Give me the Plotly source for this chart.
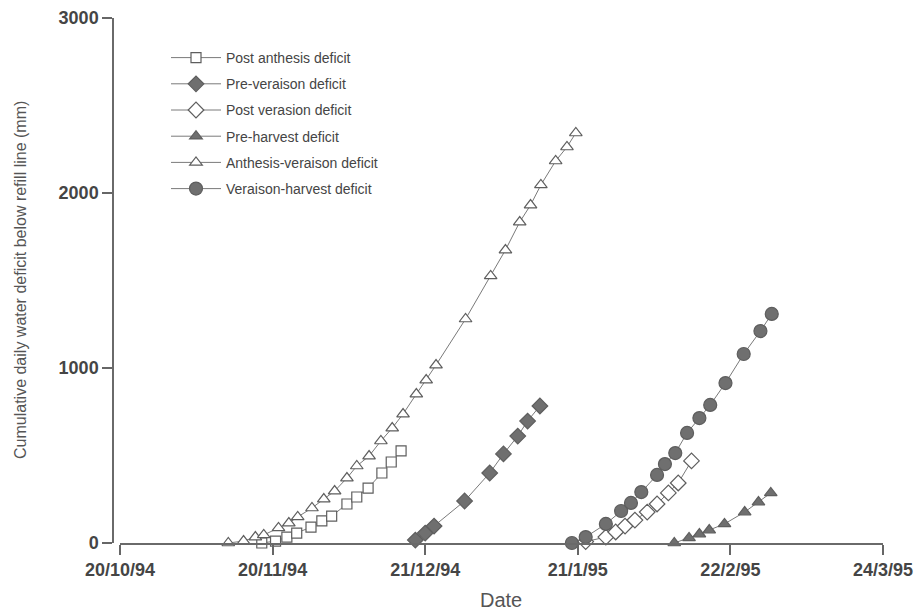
import plotly.graph_objects as go

# x values are days after 20/10/94; ticks every 31 days
tick_days = [0, 31, 62, 93, 124, 155]
tick_labels = ["20/10/94", "20/11/94", "21/12/94", "21/1/95", "22/2/95", "24/3/95"]
y_ticks = [0, 1000, 2000, 3000]

post_anthesis_day = [28.8, 31.6, 33.9, 35.9, 38.8, 41.0, 43.0, 46.1, 48.1, 50.4, 53.2, 55.1, 57.1]
post_anthesis_mm = [0, 11, 34, 57, 91, 126, 154, 223, 263, 314, 400, 463, 526]

pre_veraison_day = [60.0, 62.0, 63.8, 70.0, 75.1, 77.9, 80.8, 82.8, 85.3]
pre_veraison_mm = [17, 57, 97, 240, 400, 509, 611, 697, 783]

post_veraison_day = [94.6, 98.7, 100.7, 102.6, 104.6, 107.1, 109.1, 111.4, 113.4, 116.1]
post_veraison_mm = [8, 34, 63, 97, 131, 177, 223, 286, 343, 469]

pre_harvest_day = [112.6, 115.6, 117.7, 119.7, 122.8, 126.9, 129.7, 132.2]
pre_harvest_mm = [0, 29, 51, 74, 109, 177, 234, 286]

anthesis_veraison_day = [22.0, 25.1, 27.5, 29.2, 32.2, 34.3, 36.1, 39.0, 41.4, 43.6,
                         46.1, 48.1, 50.6, 53.0, 55.3, 57.5, 60.2, 62.2, 64.2, 70.2,
                         75.3, 78.3, 81.2, 83.4, 85.5, 88.5, 90.8, 92.6]
anthesis_veraison_mm = [0, 11, 34, 46, 86, 114, 149, 200, 251, 297,
                        371, 440, 497, 583, 657, 737, 851, 931, 1017, 1280,
                        1526, 1674, 1834, 1931, 2046, 2183, 2263, 2343]

veraison_harvest_day = [91.8, 94.6, 98.7, 101.8, 103.8, 105.9, 109.1, 110.7, 112.8, 115.2,
                        117.7, 119.9, 123.0, 126.7, 130.1, 132.4]
veraison_harvest_mm = [0, 34, 109, 183, 229, 291, 389, 451, 514, 629,
                       714, 789, 914, 1080, 1211, 1309]

LINE = "#7a7a7a"
EDGE = "#5e5e5e"
FILL = "#6f6f6f"
TEXT = "#454545"

series = [
    ("Post anthesis deficit", post_anthesis_day, post_anthesis_mm, "square", 10, "white"),
    ("Pre-veraison deficit", pre_veraison_day, pre_veraison_mm, "diamond", 12, FILL),
    ("Post verasion deficit", post_veraison_day, post_veraison_mm, "diamond", 12, "white"),
    ("Pre-harvest deficit", pre_harvest_day, pre_harvest_mm, "triangle-up", 11, FILL),
    ("Anthesis-veraison deficit", anthesis_veraison_day, anthesis_veraison_mm, "triangle-up", 11, "white"),
    ("Veraison-harvest deficit", veraison_harvest_day, veraison_harvest_mm, "circle", 13, FILL),
]

fig = go.Figure()
for i, (name, xd, yd, sym, size, fill) in enumerate(series):
    fig.add_trace(go.Scatter(
        x=xd, y=yd, name=name, mode="lines+markers",
        legendgroup=f"g{i}",
        line=dict(color=LINE, width=1),
        marker=dict(symbol=sym, size=size, color=fill,
                    line=dict(color=EDGE, width=1.2)),
        cliponaxis=False,
    ))

W, H = 920, 615
top, bottom = 18, 543
ph = bottom - top

fig.update_layout(
    width=W, height=H,
    margin=dict(l=0, r=0, t=top, b=H - bottom),
    paper_bgcolor="white", plot_bgcolor="white",
    font=dict(family="Liberation Sans, Arial, sans-serif", color=TEXT),
    showlegend=True,
    legend=dict(
        x=166 / W, y=(bottom - 42) / ph, xanchor="left", yanchor="top",
        font=dict(size=14, color=TEXT), bgcolor="rgba(0,0,0,0)",
        tracegroupgap=5, itemwidth=50,
    ),
    xaxis=dict(
        domain=[120 / W, 883 / W], range=[0, 155],
        tickmode="array", tickvals=tick_days, ticktext=tick_labels,
        ticks="outside", ticklen=10, tickwidth=1.5, tickcolor="#666",
        showline=True, linecolor="#6a6a6a", linewidth=1.5,
        showgrid=False, zeroline=False, automargin=False,
        tickfont=dict(size=18, color=TEXT, weight="bold"),
    ),
    yaxis=dict(
        anchor="free", position=113 / W, range=[0, 3000],
        tickmode="array", tickvals=y_ticks,
        ticks="outside", ticklen=10, tickwidth=1.5, tickcolor="#666",
        showline=True, linecolor="#6a6a6a", linewidth=1.5,
        showgrid=False, zeroline=False, automargin=False,
        tickfont=dict(size=18, color=TEXT, weight="bold"),
    ),
    annotations=[
        dict(text="Cumulative daily water deficit below refill line (mm)",
             x=20 / W, y=(bottom - 280) / ph, xref="paper", yref="paper",
             xanchor="center", yanchor="middle", textangle=-90, showarrow=False,
             font=dict(size=16, color="#555")),
        dict(text="Date", x=501 / W, y=(bottom - 600) / ph, xref="paper", yref="paper",
             xanchor="center", yanchor="middle", showarrow=False,
             font=dict(size=20, color="#555")),
    ],
)

fig.write_html("out.html")
